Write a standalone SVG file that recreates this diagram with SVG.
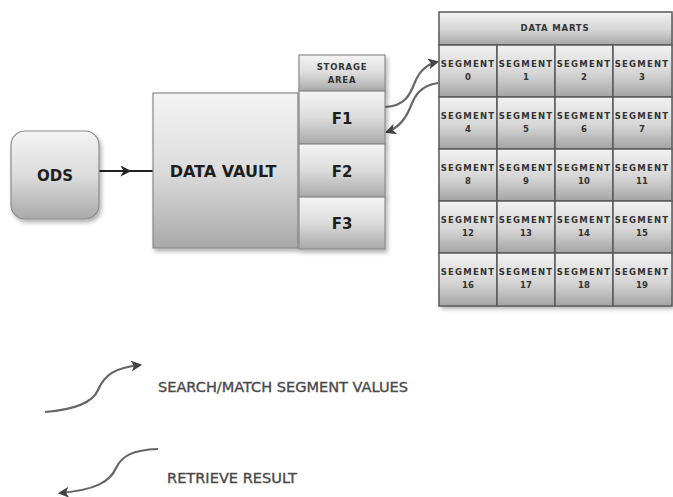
<svg xmlns="http://www.w3.org/2000/svg" width="673" height="497" viewBox="0 0 673 497">
<defs>
<linearGradient id="gBox" x1="0" y1="0" x2="0" y2="1">
<stop offset="0" stop-color="#f4f4f4"/><stop offset="0.5" stop-color="#dcdcdc"/><stop offset="1" stop-color="#a9a9a9"/>
</linearGradient>
<linearGradient id="gCell" x1="0" y1="0" x2="0" y2="1">
<stop offset="0" stop-color="#f2f2f2"/><stop offset="0.55" stop-color="#d6d6d6"/><stop offset="1" stop-color="#a4a4a4"/>
</linearGradient>
<filter id="sh" x="-10%" y="-10%" width="130%" height="130%">
<feDropShadow dx="2" dy="3" stdDeviation="2" flood-color="#000" flood-opacity="0.3"/>
</filter>
<marker id="ah" viewBox="0 0 10 10" refX="8" refY="5" markerWidth="11" markerHeight="11" markerUnits="userSpaceOnUse" orient="auto">
<path d="M0,0 L10,5 L0,10 L2.5,5 Z" fill="#444"/>
</marker>
<marker id="am" viewBox="0 0 10 10" refX="6" refY="5" markerWidth="11" markerHeight="11" markerUnits="userSpaceOnUse" orient="auto">
<path d="M0,0 L10,5 L0,10 L3,5 Z" fill="#222"/>
</marker>
</defs>
<style>
.box{fill:url(#gBox);stroke:#8a8a8a;stroke-width:1.2;filter:url(#sh)}
.cell{fill:url(#gCell);stroke:#5a5a5a;stroke-width:1.5}
.big{font-family:"DejaVu Sans",sans-serif;font-weight:bold;fill:#1e1e1e;text-anchor:middle}
.sm{font-family:"DejaVu Sans",sans-serif;font-weight:bold;fill:#333;text-anchor:middle;font-size:8.5px}
.seg{letter-spacing:1.2px}
.cur{fill:none;stroke:#666;stroke-width:2.2;marker-end:url(#ah)}
.leg{font-family:"DejaVu Sans",sans-serif;fill:#4a4a4a;stroke:#4a4a4a;stroke-width:0.35;font-size:14px}
</style>
<rect width="673" height="497" fill="#fff"/>

<g id="connectors">
<polyline points="99,171 127,171 153,171" fill="none" stroke="#222" stroke-width="2" marker-mid="url(#am)"/>
<path class="cur" d="M385,107 C405,106 410,95 415,82 C420,70 428,64 437,62"/>
<path class="cur" d="M438,83 C420,86 415,95 410,108 C405,120 398,128 387,132"/>
</g>

<g id="ods">
<rect class="box" x="11" y="131" width="88" height="88" rx="14"/>
<text class="big" x="55" y="181" font-size="15">ODS</text>
</g>

<g id="data-vault">
<rect class="box" x="153" y="93" width="145" height="155"/>
<text class="big" x="223" y="177" font-size="16">DATA VAULT</text>
</g>

<g id="storage-area">
<rect class="box" x="299" y="55" width="86" height="36"/>
<text class="sm" x="342" y="70" letter-spacing="0.8">STORAGE</text>
<text class="sm" x="342" y="83" letter-spacing="0.8">AREA</text>
</g>
<g id="f1">
<rect class="box" x="299" y="91" width="86" height="53"/>
<text class="big" x="342" y="124" font-size="15">F1</text>
</g>
<g id="f2">
<rect class="box" x="299" y="144" width="86" height="53"/>
<text class="big" x="342" y="177" font-size="15">F2</text>
</g>
<g id="f3">
<rect class="box" x="299" y="197" width="86" height="52"/>
<text class="big" x="342" y="229" font-size="15">F3</text>
</g>

<g id="data-marts">
<rect x="439" y="12" width="233" height="294" fill="#6a6a6a" filter="url(#sh)"/>
<rect class="cell" x="439" y="12" width="233" height="33"/>
<text class="sm" x="555" y="31" letter-spacing="0.8">DATA MARTS</text>
</g>

<g id="seg0"><rect class="cell" x="439" y="45" width="58" height="52"/><text class="sm seg" x="468" y="67">SEGMENT</text><text class="sm" x="468" y="80">0</text></g>
<g id="seg1"><rect class="cell" x="497" y="45" width="58" height="52"/><text class="sm seg" x="526" y="67">SEGMENT</text><text class="sm" x="526" y="80">1</text></g>
<g id="seg2"><rect class="cell" x="555" y="45" width="58" height="52"/><text class="sm seg" x="584" y="67">SEGMENT</text><text class="sm" x="584" y="80">2</text></g>
<g id="seg3"><rect class="cell" x="613" y="45" width="59" height="52"/><text class="sm seg" x="642" y="67">SEGMENT</text><text class="sm" x="642" y="80">3</text></g>

<g id="seg4"><rect class="cell" x="439" y="97" width="58" height="52"/><text class="sm seg" x="468" y="119">SEGMENT</text><text class="sm" x="468" y="132">4</text></g>
<g id="seg5"><rect class="cell" x="497" y="97" width="58" height="52"/><text class="sm seg" x="526" y="119">SEGMENT</text><text class="sm" x="526" y="132">5</text></g>
<g id="seg6"><rect class="cell" x="555" y="97" width="58" height="52"/><text class="sm seg" x="584" y="119">SEGMENT</text><text class="sm" x="584" y="132">6</text></g>
<g id="seg7"><rect class="cell" x="613" y="97" width="59" height="52"/><text class="sm seg" x="642" y="119">SEGMENT</text><text class="sm" x="642" y="132">7</text></g>

<g id="seg8"><rect class="cell" x="439" y="149" width="58" height="52"/><text class="sm seg" x="468" y="171">SEGMENT</text><text class="sm" x="468" y="184">8</text></g>
<g id="seg9"><rect class="cell" x="497" y="149" width="58" height="52"/><text class="sm seg" x="526" y="171">SEGMENT</text><text class="sm" x="526" y="184">9</text></g>
<g id="seg10"><rect class="cell" x="555" y="149" width="58" height="52"/><text class="sm seg" x="584" y="171">SEGMENT</text><text class="sm" x="584" y="184">10</text></g>
<g id="seg11"><rect class="cell" x="613" y="149" width="59" height="52"/><text class="sm seg" x="642" y="171">SEGMENT</text><text class="sm" x="642" y="184">11</text></g>

<g id="seg12"><rect class="cell" x="439" y="201" width="58" height="52"/><text class="sm seg" x="468" y="223">SEGMENT</text><text class="sm" x="468" y="236">12</text></g>
<g id="seg13"><rect class="cell" x="497" y="201" width="58" height="52"/><text class="sm seg" x="526" y="223">SEGMENT</text><text class="sm" x="526" y="236">13</text></g>
<g id="seg14"><rect class="cell" x="555" y="201" width="58" height="52"/><text class="sm seg" x="584" y="223">SEGMENT</text><text class="sm" x="584" y="236">14</text></g>
<g id="seg15"><rect class="cell" x="613" y="201" width="59" height="52"/><text class="sm seg" x="642" y="223">SEGMENT</text><text class="sm" x="642" y="236">15</text></g>

<g id="seg16"><rect class="cell" x="439" y="253" width="58" height="53"/><text class="sm seg" x="468" y="275">SEGMENT</text><text class="sm" x="468" y="288">16</text></g>
<g id="seg17"><rect class="cell" x="497" y="253" width="58" height="53"/><text class="sm seg" x="526" y="275">SEGMENT</text><text class="sm" x="526" y="288">17</text></g>
<g id="seg18"><rect class="cell" x="555" y="253" width="58" height="53"/><text class="sm seg" x="584" y="275">SEGMENT</text><text class="sm" x="584" y="288">18</text></g>
<g id="seg19"><rect class="cell" x="613" y="253" width="59" height="53"/><text class="sm seg" x="642" y="275">SEGMENT</text><text class="sm" x="642" y="288">19</text></g>

<g id="legend">
<path class="cur" d="M45,412 C70,410 92,404 98,390 C105,374 115,368 140,365"/>
<text class="leg" x="158" y="392" textLength="250" lengthAdjust="spacingAndGlyphs">SEARCH/MATCH SEGMENT VALUES</text>
<path class="cur" d="M158,449 C132,450 122,456 116,468 C110,482 95,490 60,493"/>
<text class="leg" x="167" y="483" textLength="130" lengthAdjust="spacingAndGlyphs">RETRIEVE RESULT</text>
</g>
</svg>
